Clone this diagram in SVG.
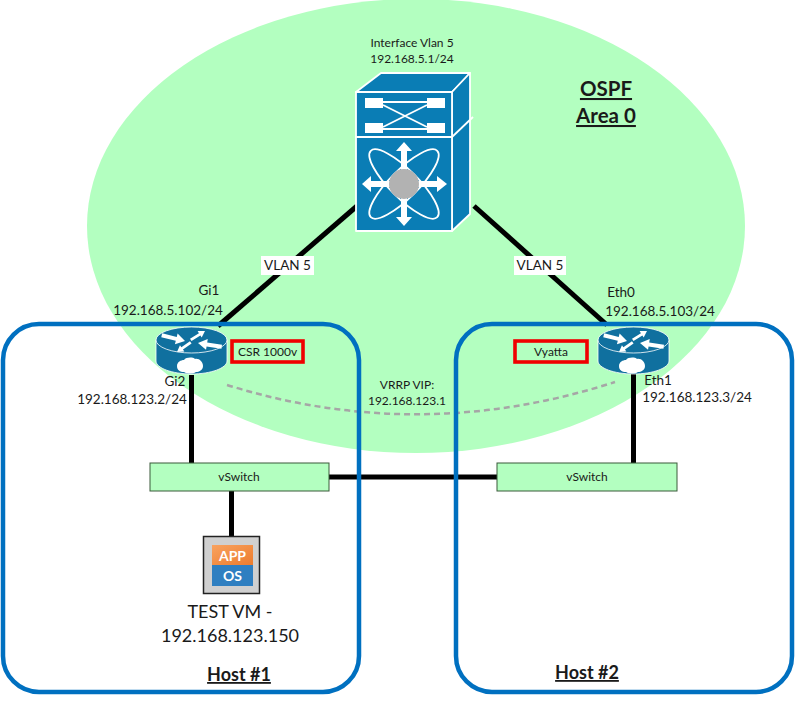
<svg xmlns="http://www.w3.org/2000/svg" width="804" height="706" viewBox="0 0 804 706">
<style>
text{font-family:Lato,"Open Sans","Liberation Sans",sans-serif;fill:#1a1a1a;text-anchor:middle}
.s{font-size:12px}
.m{font-size:13.5px}
.b{font-size:18px;font-weight:bold;text-decoration:underline}
.a{font-size:20.5px;font-weight:bold;text-decoration:underline}
.host{fill:none;stroke:#0070c0;stroke-width:4.5}
.link{stroke:#000;stroke-width:5;fill:none}
.red{fill:none;stroke:#f00000;stroke-width:3.600}
.vs{fill:#b3ffc0;stroke:#3a5a3a;stroke-width:1}
.w{fill:#fff;stroke:none}
.wl{fill:none;stroke:#fff;stroke-width:1.800}
.blue{fill:#0a7db5;stroke:#fff;stroke-width:1.800;stroke-linejoin:round}
.rb{fill:#10709f;stroke:#fff;stroke-width:.8}
.lab{fill:#fff}
</style>
<defs>
<linearGradient id="orange" x1="0" y1="0" x2="1" y2="1"><stop offset="0" stop-color="#f9a25f"/><stop offset="1" stop-color="#ec7c2e"/></linearGradient>
<path id="ra" d="M0 0L-9 -5.500V-2L-24 -2V2L-9 2V5.500Z"/>
<g id="router">
<path class="rb" d="M0 13V34C0 41 16 47 35.500 47S71 41 71 34V13Z"/>
<ellipse class="rb" cx="35.500" cy="13" rx="35.500" ry="13"/>
<g class="w">
<use href="#ra" transform="translate(29,14) rotate(14)"/>
<use href="#ra" transform="translate(49,4) rotate(-32) scale(.7)"/>
<use href="#ra" transform="translate(42,16) rotate(189)"/>
<use href="#ra" transform="translate(21,25) rotate(145) scale(.7)"/>
<path d="M21 39C21 35 25 33 28 33C30 30 37 30 39 32C43 31 47 35 47 39C47 43 43 45 40 45C37 47 31 47 28 45C24 45 21 43 21 39Z"/>
</g>
</g>
</defs>
<ellipse id="ospf-area" cx="416" cy="226" rx="329" ry="227" fill="#b3ffc0"/>
<g id="connectors">
<path class="link" d="M357 206L218 326"/>
<path class="link" d="M474 206L607 325"/>
<path class="link" d="M191.500 375V463"/>
<path class="link" d="M633.500 374V463"/>
<path class="link" d="M329 477H497"/>
<path class="link" d="M231.500 491V538"/>
<path d="M227 385Q420 445 615 382" fill="none" stroke="#a6a6a6" stroke-width="2.500" stroke-dasharray="6 4"/>
</g>
<g id="host-1">
<rect class="host" x="3" y="324" width="356" height="368" rx="36"/>
<text class="b" x="239" y="681">Host #1</text>
</g>
<g id="host-2">
<rect class="host" x="456" y="324" width="336" height="368" rx="36"/>
<text class="b" x="587" y="679">Host #2</text>
</g>
<g id="area-label">
<text class="a" x="606" y="96">OSPF</text>
<text class="a" x="606" y="123">Area 0</text>
</g>
<g id="switch">
<path class="blue" d="M356 92L381 73H470L452 92Z"/>
<path class="blue" d="M452 92L470 73V214L452 231Z"/>
<rect class="blue" x="356" y="92" width="96" height="45"/>
<rect class="blue" x="356" y="137" width="96" height="94"/>
<path class="wl" d="M452 137L473 117"/>
<g class="w">
<rect x="365" y="98" width="18" height="10"/><rect x="427" y="98" width="18" height="10"/>
<rect x="365" y="123" width="18" height="10"/><rect x="427" y="123" width="18" height="10"/>
</g>
<path class="wl" d="M383 102H427M383 129H427M383 105L427 127M383 127L427 105"/>
<g class="wl">
<ellipse cx="404" cy="184" rx="14" ry="47" transform="rotate(45 404 184)"/>
<ellipse cx="404" cy="184" rx="14" ry="47" transform="rotate(-45 404 184)"/>
</g>
<g class="w">
<path d="M401 172V151H396L404 142L412 151H407V172Z"/>
<path d="M401 196V217H396L404 226L412 217H407V196Z"/>
<path d="M392 181H371V176L362 184L371 192V187H392Z"/>
<path d="M416 181H437V176L447 184L437 192V187H416Z"/>
</g>
<circle cx="404" cy="184" r="15" fill="#b2b2b2"/>
</g>
<g id="router-left"><use href="#router" x="156" y="327"/></g>
<g id="router-right"><use href="#router" x="598" y="327"/></g>
<g id="csr-label"><rect class="red" x="232" y="341" width="71" height="21"/><text class="s" x="267.500" y="356">CSR 1000v</text></g>
<g id="vyatta-label"><rect class="red" x="515" y="341" width="72" height="21"/><text class="s" x="551" y="356">Vyatta</text></g>
<g id="vswitch-left"><rect class="vs" x="150" y="463" width="179" height="28"/><text class="s" x="239" y="481">vSwitch</text></g>
<g id="vswitch-right"><rect class="vs" x="497" y="463" width="180" height="28"/><text class="s" x="587" y="481">vSwitch</text></g>
<g id="test-vm">
<rect x="203.500" y="536.500" width="56" height="57" fill="#d0d0d0" stroke="#222" stroke-width="1.500"/>
<rect x="212" y="545" width="41" height="20" fill="url(#orange)"/>
<rect x="212" y="565" width="41" height="21" fill="#2f7fc1"/>
<text x="232.500" y="561" style="font-size:14px;font-weight:bold;fill:#fff">APP</text>
<text x="232.500" y="581" style="font-size:14px;font-weight:bold;fill:#fff">OS</text>
<text x="230" y="618" style="font-size:18px">TEST VM -</text>
<text x="230" y="642" style="font-size:18px">192.168.123.150</text>
</g>
<g id="labels">
<text class="s" x="412" y="47">Interface Vlan 5</text>
<text class="s" x="412" y="63">192.168.5.1/24</text>
<rect class="lab" x="261" y="256" width="53" height="19"/><text class="m" x="287.500" y="270">VLAN 5</text>
<rect class="lab" x="514" y="256" width="52" height="19"/><text class="m" x="540" y="270">VLAN 5</text>
<text class="m" x="209" y="295">Gi1</text>
<text class="m" x="168" y="315">192.168.5.102/24</text>
<text class="m" x="175" y="386">Gi2</text>
<text class="m" x="132" y="404">192.168.123.2/24</text>
<text class="m" x="621" y="297">Eth0</text>
<text class="m" x="660" y="316">192.168.5.103/24</text>
<text class="m" x="658" y="385">Eth1</text>
<text class="m" x="697" y="402">192.168.123.3/24</text>
<text class="s" x="407" y="389">VRRP VIP:</text>
<text class="s" x="407" y="405">192.168.123.1</text>
</g>
</svg>
